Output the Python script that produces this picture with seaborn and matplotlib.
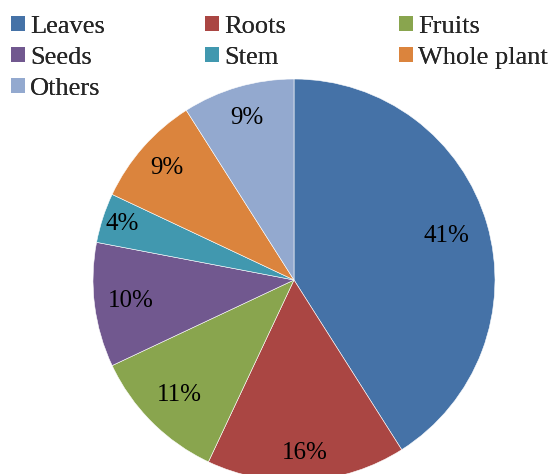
import matplotlib
matplotlib.use("Agg")
import matplotlib.pyplot as plt
import matplotlib.patches as mpatches
import seaborn as sns
import numpy as np

categories = ["Leaves", "Roots", "Fruits", "Seeds", "Stem", "Whole plant", "Others"]
values = [41, 16, 11, 10, 4, 9, 9]
pct_labels = ["41%", "16%", "11%", "10%", "4%", "9%", "9%"]
colors = ["#4572A7", "#AA4643", "#89A54E", "#71588F", "#4198AF", "#DB843D", "#93A9CF"]
label_radius = [0.79, 0.86, 0.81, 0.82, 0.90, 0.84, 0.84]

sns.set_theme(style="white")
plt.rcParams["font.family"] = ["Liberation Serif", "DejaVu Serif"]

palette = sns.color_palette(colors)

fig = plt.figure(figsize=(5.5, 4.74), dpi=100)
W, H = 550, 474
cx, cy, R = 294, 280, 201
ax = fig.add_axes([(cx - R) / W, (H - cy - R) / H, 2 * R / W, 2 * R / H])

wedges, _ = ax.pie(values, colors=palette, startangle=90, counterclock=False,
                   radius=1.0, center=(0, 0), frame=False,
                   wedgeprops=dict(edgecolor="white", linewidth=0.4))
ax.set_xlim(-1, 1)
ax.set_ylim(-1, 1)
ax.set_aspect("auto")
ax.axis("off")

for w, lab, r in zip(wedges, pct_labels, label_radius):
    ang = np.deg2rad((w.theta1 + w.theta2) / 2)
    ax.text(r * np.cos(ang), r * np.sin(ang), lab, ha="center", va="center",
            fontsize=18, color="black")

handles = [mpatches.Patch(facecolor=c, edgecolor="none", label=n)
           for c, n in zip(palette, categories)]
col_x = [11, 205, 399]
for j in range(3):
    leg = fig.legend(handles=handles[j::3], loc="upper left",
                     bbox_to_anchor=(col_x[j] / W, 1 - 16 / H),
                     frameon=False, fontsize=19, ncol=1,
                     handlelength=0.52, handleheight=0.52,
                     handletextpad=0.2, labelspacing=0.34,
                     borderpad=0.0, borderaxespad=0.0)
    fig.add_artist(leg)

fig.savefig("out.png", dpi=100)
